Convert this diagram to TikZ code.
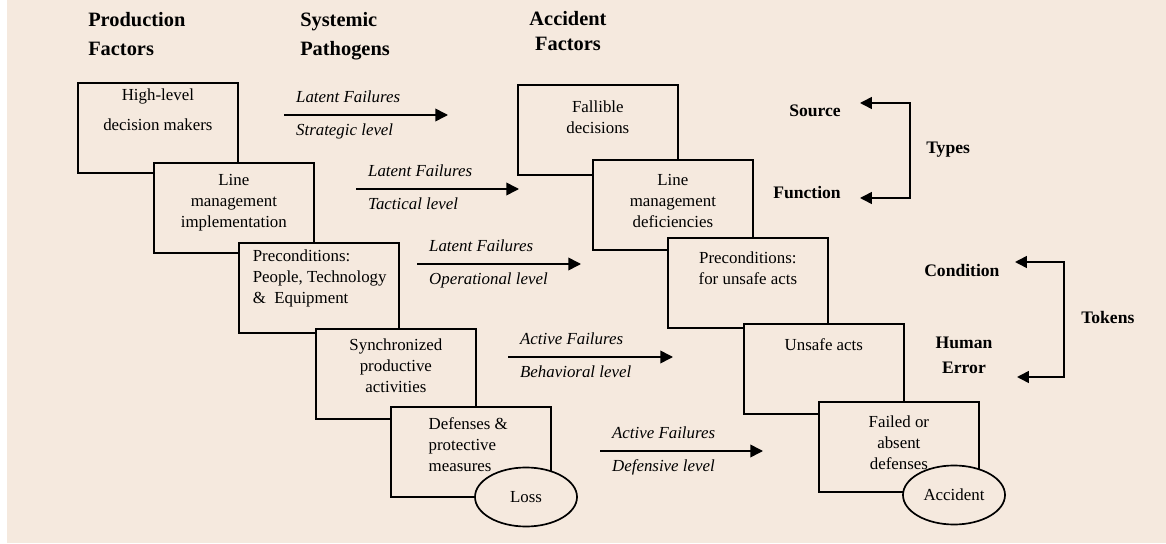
\documentclass[tikz,border=0pt]{standalone}
\usepackage{fontspec}
\setmainfont{Liberation Serif}
\usetikzlibrary{arrows.meta,shapes.geometric}
\definecolor{paper}{RGB}{245,233,222}
\newcommand{\inbox}[3][\centering]{\parbox[t][2.25cm][t]{4cm}{#1\vspace*{#2}#3}}
\tikzset{
	factor/.style={draw,fill=paper,line width=1.2pt,minimum width=4cm,minimum height=2.25cm,inner sep=0pt,anchor=north west,font=\fontsize{12}{14.9}\selectfont},
	outcome/.style={draw,ellipse,fill=paper,line width=1.2pt,minimum width=2.55cm,minimum height=1.475cm,inner sep=0pt,font=\fontsize{12}{14.9}\selectfont},
	failure/.style={line width=1.1pt,-{Triangle[length=9pt,width=9pt]}},
	pair/.style={line width=1.1pt,{Triangle[length=8.5pt,width=8.5pt]}-{Triangle[length=8.5pt,width=8.5pt]}},
	lab/.style={inner sep=0pt,font=\fontsize{12}{14}\selectfont\itshape},
	upper/.style={lab,pos=0,anchor=south west,shift={(8.1pt,8.5pt)}},
	lower/.style={lab,pos=0,anchor=north west,shift={(8.1pt,-5.7pt)}},
	head/.style={inner sep=0pt,align=left,font=\fontsize{14.5}{20}\selectfont\bfseries},
	kind/.style={inner sep=0pt,font=\fontsize{12.5}{17.7}\selectfont\bfseries}
}
\begin{document}
\begin{tikzpicture}[x=0.025cm,y=-0.025cm]
		\useasboundingbox (0,0) rectangle (1166,544);
		\fill[white] (0,0) rectangle (1166,544);
		\fill[paper] (7,0) rectangle (1166,543);
		% column heads
		\node[head,anchor=north west] (prod) at (88,12.5) {Production\\Factors};
		\node[head,anchor=north west] (sys) at (300,12.5) {Systemic\\Pathogens};
		\node[head,anchor=north,align=center] (accf) at (568,11.5) {Accident\\[-2.8pt]Factors};
		% production factors
		\node[factor] (hl) at (77,82) {\inbox{4.5pt}{High-level\hspace*{17pt}\\[6.4pt]decision makers}};
		\node[factor] (lm) at (153,162) {\inbox{8pt}{Line\\management\\implementation}};
		\node[factor] (pre) at (238,242) {\inbox[\raggedright\leftskip=9.9pt\relax]{5.2pt}{Preconditions:\\People, Technology\\\&~ Equipment}};
		\node[factor] (syn) at (315,328) {\inbox{7.4pt}{Synchronized\\productive\\activities}};
		\node[factor] (def) at (390,406) {\inbox[\raggedright\leftskip=26.9pt\relax]{7.4pt}{Defenses \&\\protective\\measures}};
		\node[outcome] (loss) at (526,497) {Loss};
		% accident factors
		\node[factor] (fd) at (517,84) {\inbox{11.6pt}{Fallible\\decisions}};
		\node[factor] (lmd) at (592,159) {\inbox{10.2pt}{Line\\management\\deficiencies}};
		\node[factor] (pua) at (667,237) {\inbox{10.2pt}{Preconditions:\\for unsafe acts}};
		\node[factor] (ua) at (743,323) {\inbox{10.2pt}{Unsafe acts}};
		\node[factor] (fad) at (818,401) {\inbox{10.2pt}{Failed or\\absent\\defenses}};
		\node[outcome] (acc) at (954,495) {Accident};
		% failures
		\coordinate (s1) at (284,115);
		\coordinate (e1) at (448,115);
		\coordinate (s2) at (356,189);
		\coordinate (e2) at (519,189);
		\coordinate (s3) at (417,264);
		\coordinate (e3) at (581,264);
		\coordinate (s4) at (508,357);
		\coordinate (e4) at (673,357);
		\coordinate (s5) at (600,451);
		\coordinate (e5) at (763,451);
		\draw[failure] (s1) to node[upper] (l1) {Latent Failures} node[lower] (v1) {Strategic level} (e1);
		\draw[failure] (s2) to node[upper] (l2) {Latent Failures} node[lower] (v2) {Tactical level} (e2);
		\draw[failure] (s3) to node[upper] (l3) {Latent Failures} node[lower] (v3) {Operational level} (e3);
		\draw[failure] (s4) to node[upper] (l4) {Active Failures} node[lower] (v4) {Behavioral level} (e4);
		\draw[failure] (s5) to node[upper] (l5) {Active Failures} node[lower] (v5) {Defensive level} (e5);
		% types and tokens
		\node[kind,anchor=base east] (src) at (841,117) {Source};
		\node[kind,anchor=base east] (fun) at (841,199) {Function};
		\node[kind,anchor=base west] (typ) at (926,154) {Types};
		\node[kind,anchor=base west] (cnd) at (924,277) {Condition};
		\node[kind,anchor=north,align=center] (hum) at (964,337) {Human\\Error};
		\node[kind,anchor=base west] (tok) at (1081,324) {Tokens};
		\coordinate (srcTip) at (860,103);
		\coordinate (funTip) at (860,198);
		\coordinate (cndTip) at (1015,262);
		\coordinate (humTip) at (1017,377);
		\draw[pair] (srcTip) -- (910,103) -- (910,198) -- (funTip);
		\draw[pair] (cndTip) -- (1064,262) -- (1064,377) -- (humTip);
	\end{tikzpicture}
\end{document}
